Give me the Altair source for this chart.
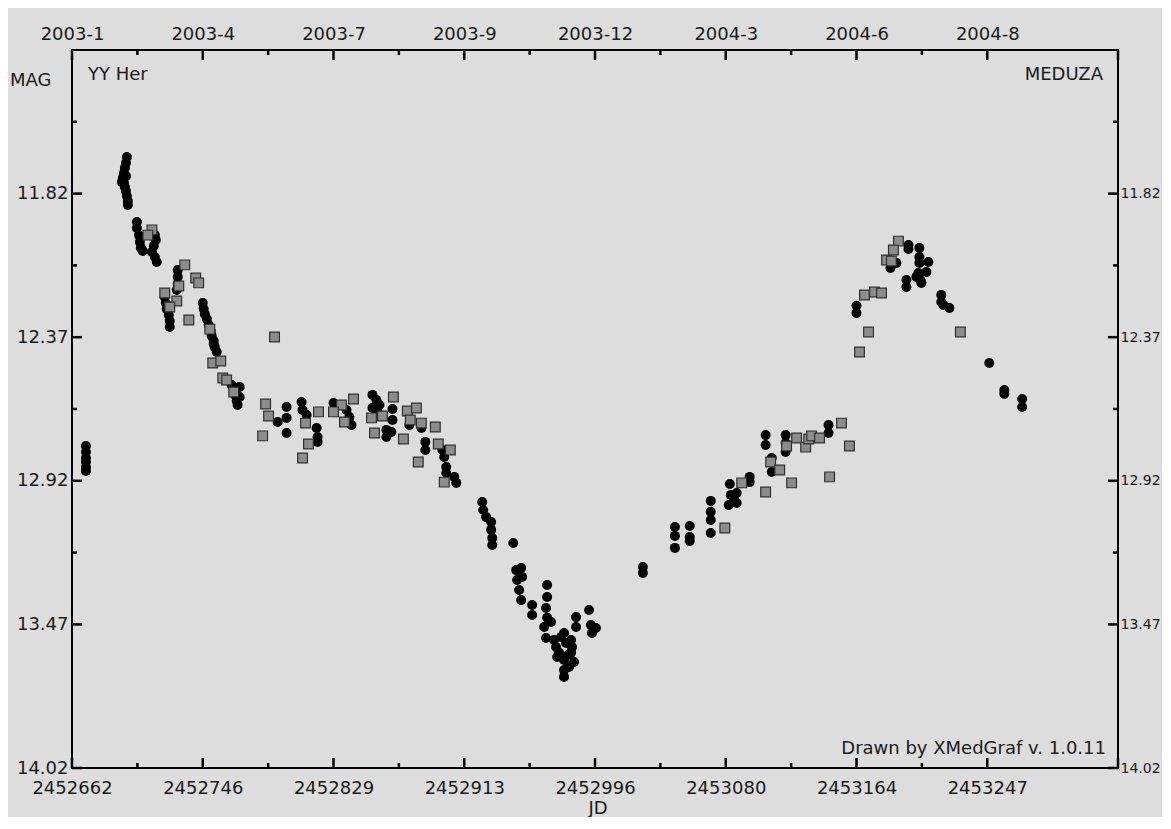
import json
import altair as alt
import pandas as pd

# ---------------- data ----------------
circ_jd = [
    2452670.9, 2452670.9, 2452670.9, 2452670.9, 2452670.9, 2452670.9,
    2452697.1, 2452696.5, 2452695.8, 2452695.2, 2452694.5, 2452695.2, 2452695.8,
    2452696.5, 2452697.1, 2452697.7, 2452697.7, 2452693.9, 2452696.5,
    2452703.5, 2452703.5, 2452704.8, 2452705.4, 2452706.0, 2452707.3,
    2452715.0, 2452715.6, 2452714.3, 2452713.1, 2452715.0, 2452716.2,
    2452729.6, 2452729.6, 2452729.6, 2452729.0, 2452721.3, 2452722.0, 2452722.6,
    2452723.9, 2452724.5, 2452724.5,
    2452745.6, 2452746.2, 2452746.9, 2452748.2, 2452749.4, 2452750.7, 2452751.3,
    2452752.6, 2452753.3, 2452754.5, 2452752.6, 2452764.1, 2452766.0, 2452766.7,
    2452767.3, 2452767.9, 2452769.2, 2452769.2,
    2452799.2, 2452799.2, 2452793.5, 2452799.2, 2452808.8, 2452809.4, 2452812.0,
    2452818.4, 2452819.0, 2452819.0, 2452829.2, 2452837.5, 2452839.4, 2452840.7,
    2452854.1, 2452856.6, 2452854.1, 2452858.6, 2452857.3, 2452866.9, 2452866.9,
    2452863.0, 2452863.0, 2452866.2, 2452877.7, 2452885.4, 2452887.9, 2452887.9,
    2452898.8, 2452900.0, 2452901.3, 2452901.3, 2452906.4, 2452907.7,
    2452924.3, 2452924.9, 2452926.8, 2452930.0, 2452930.0, 2452930.7, 2452930.7,
    2452944.1, 2452946.0, 2452949.2, 2452946.6, 2452949.8, 2452947.9, 2452949.2,
    2452956.2, 2452956.2, 2452965.8, 2452965.8, 2452965.1, 2452965.8, 2452963.9,
    2452965.1, 2452968.3, 2452971.5, 2452973.4, 2452976.6, 2452977.9, 2452976.6,
    2452976.6, 2452976.6, 2452981.1, 2452981.1, 2452984.3, 2452984.3, 2452983.0,
    2452981.7, 2452972.2, 2452974.7, 2452979.8, 2452979.2, 2452970.2,
    2452992.6, 2452993.8, 2452994.5, 2452997.0,
    2453027.0, 2453027.0, 2453047.5, 2453047.5, 2453047.5, 2453057.0, 2453057.0,
    2453057.0, 2453070.4, 2453070.4, 2453070.4, 2453070.4, 2453082.6, 2453083.2,
    2453081.9, 2453087.0, 2453087.0, 2453085.1, 2453095.3, 2453095.3, 2453105.5,
    2453105.5, 2453109.4, 2453109.4, 2453118.3, 2453118.3, 2453118.3, 2453145.7,
    2453145.7,
    2453163.6, 2453163.6, 2453196.8, 2453196.8, 2453203.8, 2453203.8, 2453203.8,
    2453209.5, 2453208.3, 2453185.3, 2453185.3, 2453189.1, 2453195.5, 2453195.5,
    2453203.2, 2453204.4, 2453205.1, 2453201.9, 2453217.8, 2453217.8, 2453219.1,
    2453223.0, 2453248.5, 2453258.1, 2453258.1, 2453269.5, 2453269.5,
]
circ_mag = [
    12.787, 12.810, 12.833, 12.848, 12.867, 12.882,
    11.680, 11.703, 11.722, 11.741, 11.760, 11.779, 11.795,
    11.810, 11.829, 11.848, 11.864, 11.776, 11.753,
    11.929, 11.952, 11.979, 12.005, 12.028, 12.040,
    11.979, 11.998, 12.021, 12.044, 12.063, 12.082,
    12.113, 12.139, 12.166, 12.189, 12.216, 12.239, 12.262,
    12.285, 12.308, 12.331,
    12.239, 12.262, 12.281, 12.300, 12.323, 12.346, 12.365,
    12.385, 12.408, 12.427, 12.396, 12.553, 12.572, 12.595,
    12.614, 12.630, 12.561, 12.599,
    12.637, 12.679, 12.695, 12.737, 12.618, 12.649, 12.668,
    12.718, 12.752, 12.771, 12.622, 12.649, 12.676, 12.706,
    12.591, 12.611, 12.641, 12.630, 12.656, 12.645, 12.687,
    12.725, 12.752, 12.733, 12.706, 12.718, 12.771, 12.802,
    12.802, 12.829, 12.867, 12.890, 12.905, 12.928,
    13.001, 13.032, 13.059, 13.078, 13.108, 13.139, 13.166,
    13.158, 13.262, 13.254, 13.300, 13.288, 13.338, 13.377,
    13.396, 13.434, 13.319, 13.365, 13.407, 13.445, 13.480,
    13.522, 13.461, 13.557, 13.579, 13.503, 13.541, 13.606,
    13.645, 13.671, 13.530, 13.579, 13.442, 13.480, 13.614,
    13.557, 13.595, 13.518, 13.633, 13.587, 13.530,
    13.415, 13.472, 13.503, 13.484,
    13.250, 13.273, 13.097, 13.131, 13.177, 13.093, 13.135,
    13.151, 12.997, 13.039, 13.070, 13.120, 12.932, 12.974,
    13.013, 12.967, 13.005, 12.986, 12.905, 12.925, 12.745,
    12.783, 12.833, 12.886, 12.745, 12.775, 12.810, 12.706,
    12.737,
    12.250, 12.277, 12.017, 12.032, 12.028, 12.063, 12.086,
    12.082, 12.120, 12.086, 12.105, 12.086, 12.151, 12.178,
    12.124, 12.151, 12.162, 12.139, 12.208, 12.235, 12.247,
    12.258, 12.469, 12.572, 12.587, 12.607, 12.637,
]

sq_jd = [
    2452713.1, 2452710.5,
    2452734.1, 2452730.3, 2452729.0, 2452721.3, 2452724.5, 2452736.7, 2452741.1, 2452743.0,
    2452750.1, 2452752.0, 2452757.1, 2452758.4, 2452760.9, 2452765.4,
    2452791.5, 2452785.8, 2452787.7, 2452783.9, 2452819.6, 2452811.3, 2452813.2,
    2452809.4, 2452834.3, 2452829.2, 2452836.2, 2452842.0, 2452867.5, 2452853.5,
    2452860.5, 2452855.4, 2452876.4, 2452882.2, 2452878.3, 2452885.4, 2452894.3,
    2452873.9, 2452896.2, 2452903.9, 2452883.4, 2452900.0,
    2453090.2, 2453105.5, 2453079.4, 2453108.7, 2453114.5, 2453122.1, 2453118.9,
    2453125.3, 2453131.1, 2453133.0, 2453134.9, 2453140.0, 2453146.4, 2453154.0,
    2453159.1,
    2453190.4, 2453187.2, 2453182.8, 2453185.9, 2453168.7, 2453175.1, 2453179.6,
    2453171.3, 2453165.5, 2453230.0,
]
sq_mag = [
    11.959, 11.979,
    12.093, 12.174, 12.231, 12.201, 12.254, 12.304, 12.143, 12.162,
    12.339, 12.469, 12.461, 12.526, 12.534, 12.580,
    12.369, 12.626, 12.672, 12.748, 12.656, 12.699, 12.779,
    12.833, 12.630, 12.656, 12.695, 12.607, 12.599, 12.679,
    12.672, 12.737, 12.653, 12.641, 12.687, 12.699, 12.714,
    12.760, 12.779, 12.802, 12.848, 12.925,
    12.928, 12.963, 13.101, 12.848, 12.879, 12.928, 12.787,
    12.756, 12.791, 12.760, 12.748, 12.756, 12.905, 12.699,
    12.787,
    12.002, 12.036, 12.074, 12.078, 12.208, 12.197, 12.201,
    12.350, 12.427, 12.350,
]

jd_major = [2452662.0, 2452745.6, 2452829.2, 2452912.8, 2452996.4,
            2453080.0, 2453163.6, 2453247.2, 2453330.8]
jd_minor = [2452703.8, 2452787.4, 2452871.0, 2452954.6, 2453038.2,
            2453121.8, 2453205.4]
jd_labels = ["2452662", "2452746", "2452829", "2452913", "2452996",
             "2453080", "2453164", "2453247"]
date_labels = ["2003-1", "2003-4", "2003-7", "2003-9", "2003-12",
               "2004-3", "2004-6", "2004-8"]
mag_domain = [11.27, 14.02]
mag_major = [11.82, 12.37, 12.92, 13.47, 14.02]
mag_minor = [11.545, 12.095, 12.645, 13.195]
mag_labels = ["11.82", "12.37", "12.92", "13.47", "14.02"]

# ---------------- styling ----------------
W, H = 1046, 718
FONT = "DejaVu Sans"
FS = 18
TXT = "#1a1a1a"


def lab_expr(vals, labels):
    return f"{json.dumps(labels)}[indexof({json.dumps(vals)}, datum.value)]"


xs = alt.Scale(domain=[jd_major[0], jd_major[-1]], nice=False, zero=False)
ys = alt.Scale(domain=mag_domain, reverse=True, nice=False, zero=False)

common = dict(ticks=False, tickSize=0, domain=False, grid=False,
              labelFont=FONT, labelColor=TXT,
              labelOverlap=False, labelFlush=False, labelBaseline="middle")

x_bottom = alt.Axis(orient="bottom", values=jd_major[:8],
                    labelExpr=lab_expr(jd_major[:8], jd_labels),
                    labelPadding=20, labelAlign="center", labelFontSize=FS, **common)
x_top = alt.Axis(orient="top", values=jd_major[:8],
                 labelExpr=lab_expr(jd_major[:8], date_labels),
                 labelPadding=16, labelAlign="center", labelFontSize=FS, **common)
y_left = alt.Axis(orient="left", values=mag_major,
                  labelExpr=lab_expr(mag_major, mag_labels),
                  labelPadding=4, labelAlign="right", labelFontSize=FS, **common)
y_right = alt.Axis(orient="right", values=mag_major,
                   labelExpr=lab_expr(mag_major, mag_labels),
                   labelPadding=2, labelAlign="left", labelFontSize=14, **common)

circ_df = pd.DataFrame({"jd": circ_jd, "mag": circ_mag})
sq_df = pd.DataFrame({"jd": sq_jd, "mag": sq_mag})

circles = alt.Chart(circ_df).mark_point(
    shape="circle", filled=True, size=100, color="black", opacity=1
).encode(
    x=alt.X("jd:Q", scale=xs, axis=x_bottom, title=None),
    y=alt.Y("mag:Q", scale=ys, axis=y_left, title=None),
)

squares = alt.Chart(sq_df).mark_square(
    size=95, fill="#8c8c8c", stroke="#303030", strokeWidth=1.2, opacity=1
).encode(
    x=alt.X("jd:Q", scale=xs, axis=x_top, title=None),
    y=alt.Y("mag:Q", scale=ys, axis=y_right, title=None),
)

xmaj = pd.DataFrame({"jd": jd_major})
xmin = pd.DataFrame({"jd": jd_minor})
ymaj = pd.DataFrame({"mag": mag_major})
ymin = pd.DataFrame({"mag": mag_minor})


def xrule(df, y1, y2):
    return alt.Chart(df).mark_rule(color="black", strokeWidth=2.5).encode(
        x=alt.X("jd:Q", scale=xs, axis=None),
        y=alt.value(y1), y2=alt.value(y2))


def yrule(df, x1, x2):
    return alt.Chart(df).mark_rule(color="black", strokeWidth=2.5).encode(
        y=alt.Y("mag:Q", scale=ys, axis=None),
        x=alt.value(x1), x2=alt.value(x2))


rules = [
    xrule(xmaj, H, H - 10), xrule(xmaj, 0, 10),
    xrule(xmin, H, H - 5), xrule(xmin, 0, 5),
    yrule(ymaj, 0, 10), yrule(ymaj, W, W - 10),
    yrule(ymin, 0, 5), yrule(ymin, W, W - 5),
]


def note(text, x, y, align):
    return alt.Chart(pd.DataFrame({"t": [text]})).mark_text(
        font=FONT, fontSize=FS, color=TXT, align=align, baseline="middle"
    ).encode(text="t:N", x=alt.value(x), y=alt.value(y))


notes = [
    note("MAG", -62, 31, "left"),
    note("YY Her", 16, 25, "left"),
    note("MEDUZA", 1031, 25, "right"),
    note("Drawn by XMedGraf v. 1.0.11", 1034, 699, "right"),
    note("JD", 526, 759, "center"),
]

chart = alt.layer(circles, squares, *rules, *notes).resolve_axis(
    x="independent", y="independent"
).properties(
    width=W, height=H,
    padding={"left": 64, "top": 42, "right": 44, "bottom": 49},
    autosize=alt.AutoSizeParams(type="none"),
    background="#dddddd",
).configure_view(stroke="black", strokeWidth=2)

chart.save("out.html", embed_options={"renderer": "svg", "actions": False})
